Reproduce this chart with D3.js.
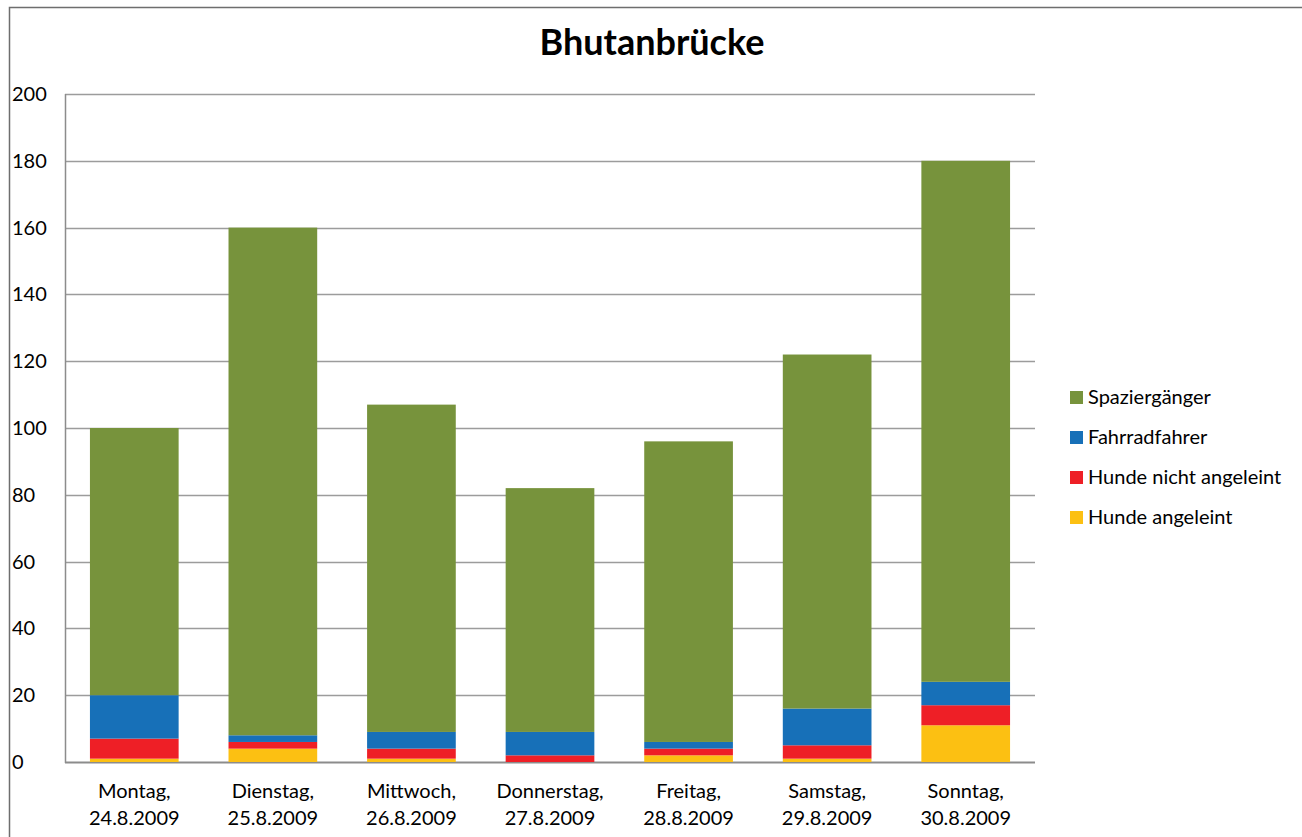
<!DOCTYPE html>
<html>
<head>
<meta charset="utf-8">
<script src="https://cdn.jsdelivr.net/npm/d3@7"></script>
<style>
  body { margin: 0; background: #fff; }
  text { font-family: Lato, "Open Sans", sans-serif; fill: #000; }
</style>
</head>
<body>
<svg id="chart" width="1302" height="837"></svg>
<script>
// Data
let days = ["Montag,|24.8.2009", "Dienstag,|25.8.2009", "Mittwoch,|26.8.2009", "Donnerstag,|27.8.2009",
    "Freitag,|28.8.2009", "Samstag,|29.8.2009", "Sonntag,|30.8.2009"];
let seriesNames = ["Hunde angeleint", "Hunde nicht angeleint", "Fahrradfahrer", "Spaziergänger"];
let hundeAngeleint = [1, 4, 1, 0, 2, 1, 11];
let hundeNichtAngeleint = [6, 2, 3, 2, 2, 4, 6];
let fahrradfahrer = [13, 2, 5, 7, 2, 11, 7];
let spaziergaenger = [80, 152, 98, 73, 90, 106, 156];
let yTicks = [0, 20, 40, 60, 80, 100, 120, 140, 160, 180, 200];
let colors = ["#FCC012", "#EE1F26", "#1770B8", "#77933C"];

let svg = d3.select("#chart");

//Build rows for the stack
let rows = days.map((d, i) => ({
    day: d,
    "Hunde angeleint": hundeAngeleint[i],
    "Hunde nicht angeleint": hundeNichtAngeleint[i],
    "Fahrradfahrer": fahrradfahrer[i],
    "Spaziergänger": spaziergaenger[i]
}));
let stacked = d3.stack().keys(seriesNames)(rows);

//Scales
let x = d3.scaleBand().domain(days).range([65, 1035]).paddingInner(0.36).paddingOuter(0.18);
let y = d3.scaleLinear().domain([0, 200]).range([762, 94]);

//Outer chart border
svg.append("rect")
    .attr("x", 9.5).attr("y", 7.5)
    .attr("width", 1400).attr("height", 1000)
    .attr("fill", "none").attr("stroke", "#6e6e6e").attr("stroke-width", 1.5);

//Title
svg.append("text")
    .attr("x", 652).attr("y", 55)
    .attr("text-anchor", "middle")
    .attr("font-size", "36px").attr("font-weight", "bold")
    .text("Bhutanbrücke");

//Gridlines
svg.append("g")
    .selectAll("line")
    .data(yTicks)
    .enter().append("line")
    .attr("x1", 65).attr("x2", 1035)
    .attr("y1", d => Math.round(y(d)) + 0.5).attr("y2", d => Math.round(y(d)) + 0.5)
    .attr("stroke", d => d === 0 ? "#8c8c8c" : "#9c9c9c")
    .attr("stroke-width", d => d === 0 ? 2 : 1.3);

//Y tick labels (left-aligned)
svg.append("g")
    .selectAll("text")
    .data(yTicks)
    .enter().append("text")
    .attr("x", 12).attr("y", d => y(d) + 7)
    .attr("font-size", "20px")
    .text(d => d);

//Bars
svg.append("g")
    .selectAll("g")
    .data(stacked)
    .enter().append("g")
    .attr("fill", (d, i) => colors[i])
    .selectAll("rect")
    .data(d => d)
    .enter().append("rect")
    .attr("x", d => x(d.data.day))
    .attr("width", x.bandwidth())
    .attr("y", d => y(d[1]))
    .attr("height", d => y(d[0]) - y(d[1]));

//Left axis line
svg.append("line")
    .attr("x1", 65.5).attr("x2", 65.5)
    .attr("y1", 94).attr("y2", 763)
    .attr("stroke", "#8c8c8c").attr("stroke-width", 1.5);

//X labels in two lines
let xl = svg.append("g")
    .selectAll("text")
    .data(days)
    .enter().append("text")
    .attr("text-anchor", "middle")
    .attr("font-size", "20px");
xl.append("tspan")
    .attr("x", d => x(d) + x.bandwidth() / 2).attr("y", 798)
    .text(d => d.split("|")[0]);
xl.append("tspan")
    .attr("x", d => x(d) + x.bandwidth() / 2).attr("y", 825)
    .text(d => d.split("|")[1]);

//Legend (top entry is the top of the stack)
let legendItems = seriesNames.slice().reverse();
let legendColors = colors.slice().reverse();
let lg = svg.append("g")
    .selectAll("g")
    .data(legendItems)
    .enter().append("g")
    .attr("transform", (d, i) => "translate(1070," + (397 + i * 40) + ")");
lg.append("rect")
    .attr("x", 0).attr("y", -6)
    .attr("width", 13).attr("height", 13)
    .attr("fill", (d, i) => legendColors[i]);
lg.append("text")
    .attr("x", 18).attr("y", 7)
    .attr("font-size", "20px")
    .text(d => d);
</script>
</body>
</html>
